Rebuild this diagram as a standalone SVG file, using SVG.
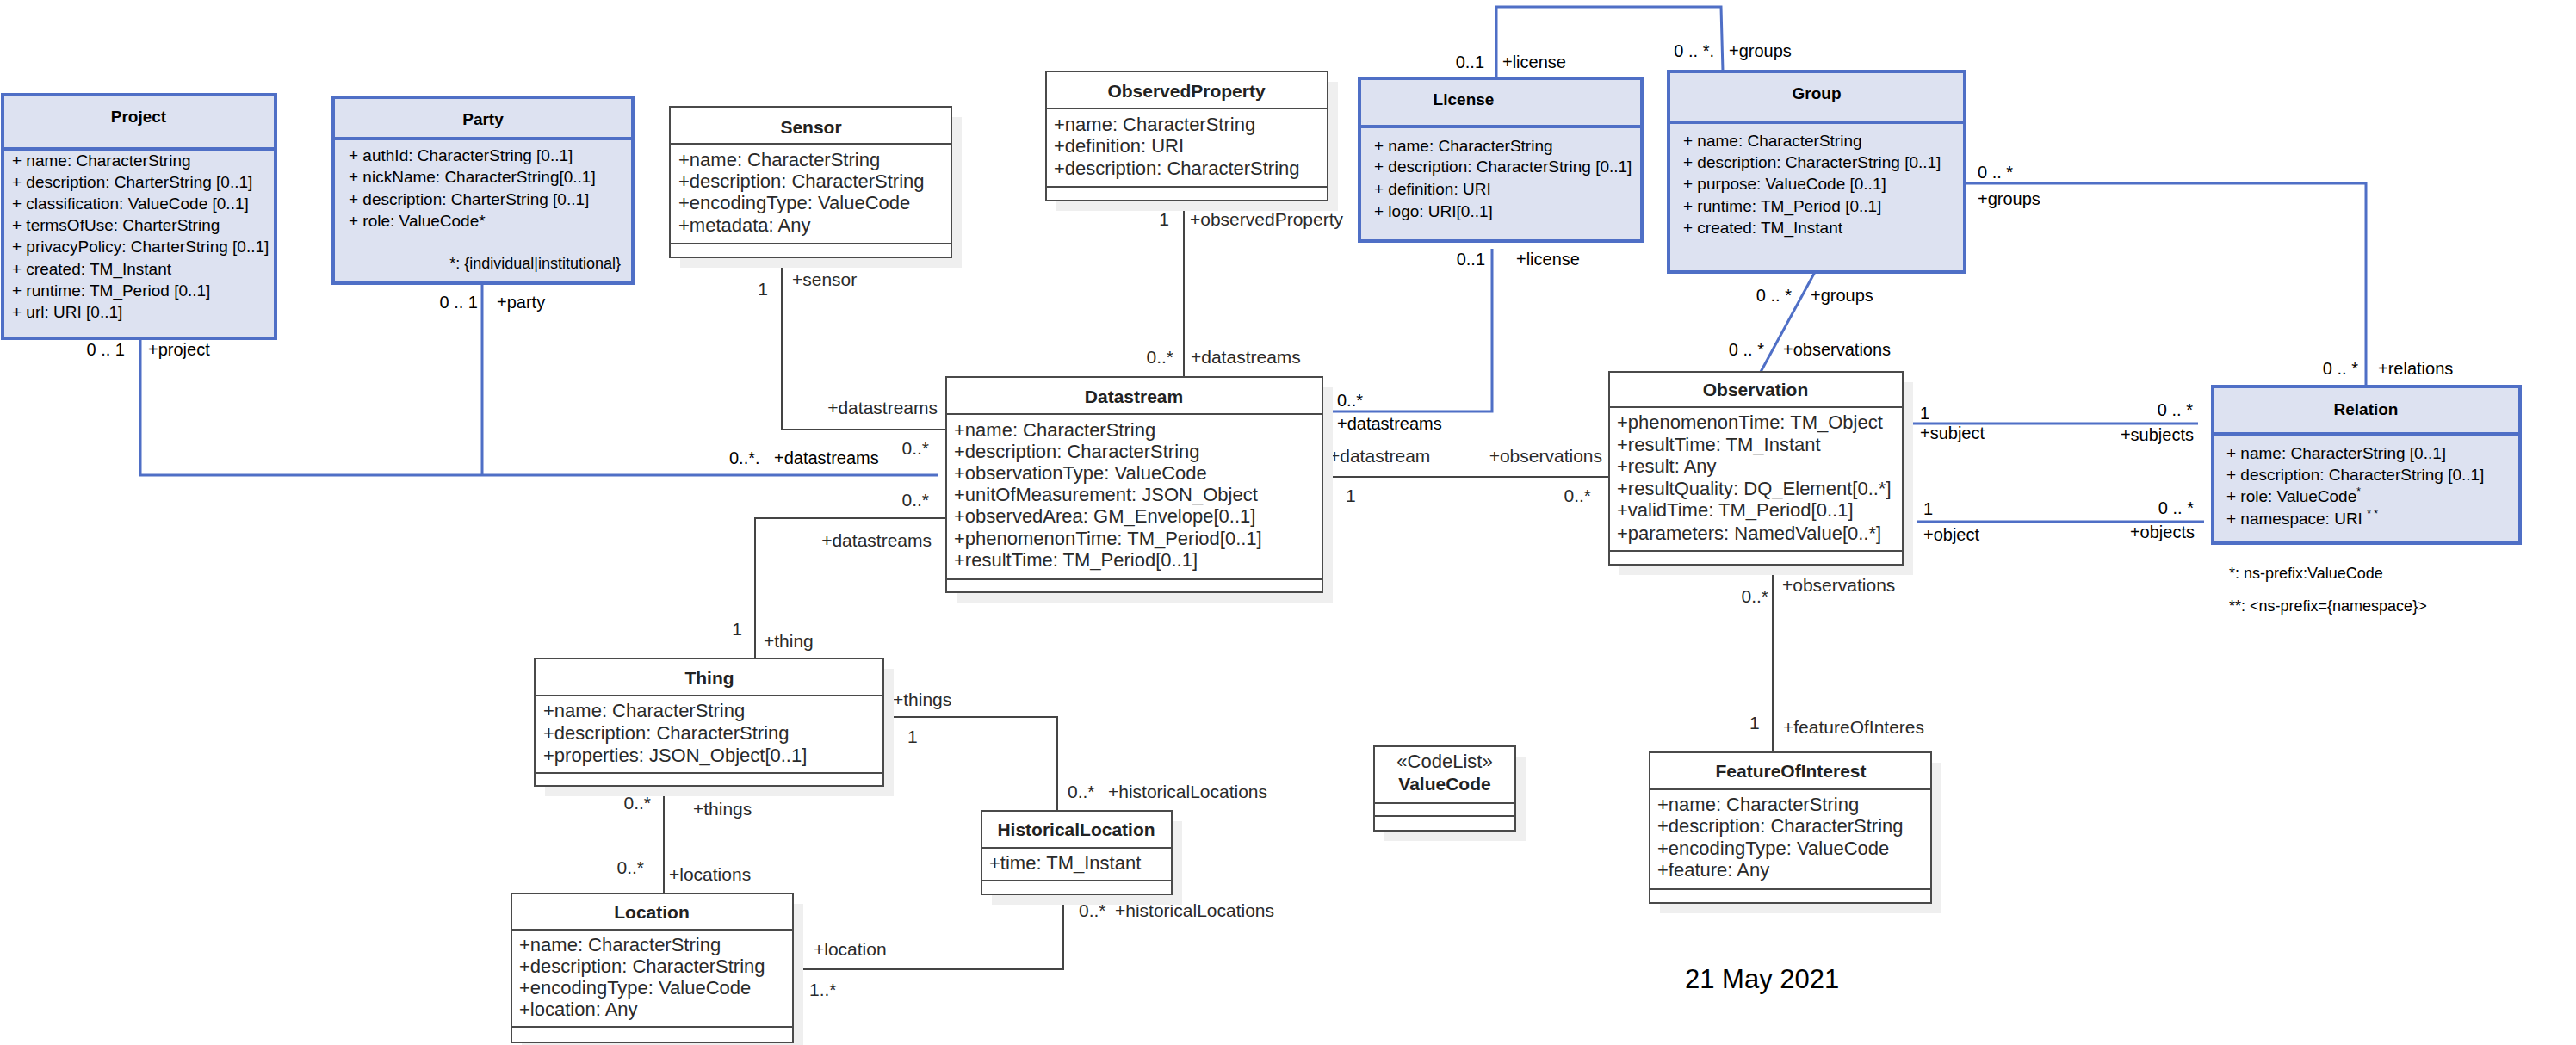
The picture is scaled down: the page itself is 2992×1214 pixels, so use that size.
<svg xmlns="http://www.w3.org/2000/svg" width="2992" height="1214" viewBox="0 0 2992 1214">
<style>
.bb{fill:#dde2f1;stroke:#4f6fc6;stroke-width:4}
.bd{stroke:#4f6fc6;stroke-width:4}
.gb{fill:#fff;stroke:#4a4a4a;stroke-width:2}
.gd{stroke:#4a4a4a;stroke-width:2}
.sh{fill:#efefef}
.bl{fill:none;stroke:#4f6fc6;stroke-width:3}
.kl{fill:none;stroke:#444;stroke-width:2}
text{font-family:"Liberation Sans",Arial,sans-serif}
.bt{font-size:19px;fill:#000}
.btt{font-size:19px;font-weight:bold;fill:#000;text-anchor:middle}
.gt{font-size:22px;fill:#2a2a2a}
.gtt{font-size:21px;font-weight:bold;fill:#222;text-anchor:middle}
.bla{font-size:20px;fill:#000}
.gla{font-size:21px;fill:#2a2a2a}
.e{text-anchor:end}
.m{text-anchor:middle}
.note{font-size:18px;fill:#000}
</style>

<g id="connectors">
  <polyline class="bl" points="163,393 163,552 1090,552"/>
  <line class="bl" x1="560" y1="329" x2="560" y2="552"/>
  <polyline class="bl" points="1738,91 1738,8 1999,8 2001,83"/>
  <polyline class="bl" points="1733,289 1733,478 1536,478"/>
  <line class="bl" x1="2108" y1="316" x2="2045" y2="432"/>
  <polyline class="bl" points="2282,213 2748,213 2748,449"/>
  <line class="bl" x1="2219" y1="492" x2="2553" y2="492"/>
  <line class="bl" x1="2227" y1="606" x2="2560" y2="606"/>

  <polyline class="kl" points="908,299 908,499 1099,499"/>
  <line class="kl" x1="1375" y1="233" x2="1375" y2="438"/>
  <polyline class="kl" points="1099,602 877,602 877,765"/>
  <line class="kl" x1="1536" y1="554" x2="1869" y2="554"/>
  <line class="kl" x1="2059" y1="656" x2="2059" y2="874"/>
  <polyline class="kl" points="1026,833 1228,833 1228,942"/>
  <line class="kl" x1="771" y1="913" x2="771" y2="1038"/>
  <polyline class="kl" points="1235,1039 1235,1126 921,1126"/>

  <text class="bla e" x="145" y="413">0 .. 1</text>
  <text class="bla" x="172" y="413">+project</text>
  <text class="bla e" x="555" y="358">0 .. 1</text>
  <text class="bla" x="577" y="358">+party</text>
  <text class="bla" x="847" y="539">0..*.</text>
  <text class="bla" x="899" y="539">+datastreams</text>
  <text class="bla e" x="1724" y="79">0..1</text>
  <text class="bla" x="1745" y="79">+license</text>
  <text class="bla e" x="1991" y="66">0 .. *.</text>
  <text class="bla" x="2008" y="66">+groups</text>
  <text class="bla e" x="1725" y="308">0..1</text>
  <text class="bla" x="1761" y="308">+license</text>
  <text class="bla" x="1553" y="472">0..*</text>
  <text class="bla" x="1553" y="499">+datastreams</text>
  <text class="bla e" x="2081" y="350">0 .. *</text>
  <text class="bla" x="2103" y="350">+groups</text>
  <text class="bla e" x="2049" y="413">0 .. *</text>
  <text class="bla" x="2071" y="413">+observations</text>
  <text class="bla" x="2297" y="207">0 .. *</text>
  <text class="bla" x="2297" y="238">+groups</text>
  <text class="bla e" x="2739" y="435">0 .. *</text>
  <text class="bla" x="2762" y="435">+relations</text>
  <text class="bla" x="2230" y="487">1</text>
  <text class="bla" x="2230" y="510">+subject</text>
  <text class="bla e" x="2547" y="483">0 .. *</text>
  <text class="bla e" x="2548" y="512">+subjects</text>
  <text class="bla" x="2234" y="598">1</text>
  <text class="bla" x="2234" y="628">+object</text>
  <text class="bla e" x="2548" y="597">0 .. *</text>
  <text class="bla e" x="2549" y="625">+objects</text>

  <text class="gla m" x="886" y="343">1</text>
  <text class="gla" x="920" y="332">+sensor</text>
  <text class="gla m" x="1352" y="262">1</text>
  <text class="gla" x="1382" y="262">+observedProperty</text>
  <text class="gla e" x="1089" y="481">+datastreams</text>
  <text class="gla e" x="1079" y="528">0..*</text>
  <text class="gla e" x="1363" y="422">0..*</text>
  <text class="gla" x="1383" y="422">+datastreams</text>
  <text class="gla e" x="1079" y="588">0..*</text>
  <text class="gla e" x="1082" y="635">+datastreams</text>
  <text class="gla" x="1544" y="537">+datastream</text>
  <text class="gla e" x="1861" y="537">+observations</text>
  <text class="gla" x="1563" y="583">1</text>
  <text class="gla e" x="1848" y="583">0..*</text>
  <text class="gla" x="2070" y="687">+observations</text>
  <text class="gla e" x="2054" y="700">0..*</text>
  <text class="gla" x="2032" y="847">1</text>
  <text class="gla" x="2071" y="852">+featureOfInteres</text>
  <text class="gla m" x="856" y="738">1</text>
  <text class="gla" x="887" y="752">+thing</text>
  <text class="gla" x="1037" y="820">+things</text>
  <text class="gla" x="1054" y="863">1</text>
  <text class="gla" x="1240" y="927">0..*</text>
  <text class="gla" x="1287" y="927">+historicalLocations</text>
  <text class="gla e" x="756" y="940">0..*</text>
  <text class="gla" x="805" y="947">+things</text>
  <text class="gla e" x="748" y="1015">0..*</text>
  <text class="gla" x="777" y="1023">+locations</text>
  <text class="gla" x="1253" y="1065">0..*</text>
  <text class="gla" x="1295" y="1065">+historicalLocations</text>
  <text class="gla" x="945" y="1110">+location</text>
  <text class="gla" x="940" y="1157">1..*</text>
</g>

<g id="project">
  <rect class="bb" x="3" y="110" width="317" height="283"/>
  <line class="bd" x1="3" y1="173" x2="320" y2="173"/>
  <text class="btt" x="161" y="142">Project</text>
  <text class="bt" x="14" y="193">+ name: CharacterString</text>
  <text class="bt" x="14" y="218">+ description: CharterString [0..1]</text>
  <text class="bt" x="14" y="243">+ classification: ValueCode [0..1]</text>
  <text class="bt" x="14" y="268">+ termsOfUse: CharterString</text>
  <text class="bt" x="14" y="293">+ privacyPolicy: CharterString [0..1]</text>
  <text class="bt" x="14" y="319">+ created: TM_Instant</text>
  <text class="bt" x="14" y="344">+ runtime: TM_Period [0..1]</text>
  <text class="bt" x="14" y="369">+ url: URI [0..1]</text>
</g>

<g id="party">
  <rect class="bb" x="387" y="113" width="348" height="216"/>
  <line class="bd" x1="387" y1="161" x2="735" y2="161"/>
  <text class="btt" x="561" y="145">Party</text>
  <text class="bt" x="405" y="187">+ authId: CharacterString [0..1]</text>
  <text class="bt" x="405" y="212">+ nickName: CharacterString[0..1]</text>
  <text class="bt" x="405" y="238">+ description: CharterString [0..1]</text>
  <text class="bt" x="405" y="263">+ role: ValueCode*</text>
  <text class="note e" x="721" y="312">*: {individual|institutional}</text>
</g>

<g id="sensor">
  <rect class="sh" x="790" y="136" width="327" height="175"/>
  <rect class="gb" x="778" y="124" width="327" height="175"/>
  <line class="gd" x1="778" y1="167" x2="1105" y2="167"/>
  <line class="gd" x1="778" y1="283" x2="1105" y2="283"/>
  <text class="gtt" x="942" y="155">Sensor</text>
  <text class="gt" x="788" y="193">+name: CharacterString</text>
  <text class="gt" x="788" y="218">+description: CharacterString</text>
  <text class="gt" x="788" y="243">+encodingType: ValueCode</text>
  <text class="gt" x="788" y="269">+metadata: Any</text>
</g>

<g id="observedproperty">
  <rect class="sh" x="1227" y="95" width="327" height="150"/>
  <rect class="gb" x="1215" y="83" width="327" height="150"/>
  <line class="gd" x1="1215" y1="126" x2="1542" y2="126"/>
  <line class="gd" x1="1215" y1="217" x2="1542" y2="217"/>
  <text class="gtt" x="1378" y="113">ObservedProperty</text>
  <text class="gt" x="1224" y="152">+name: CharacterString</text>
  <text class="gt" x="1224" y="177">+definition: URI</text>
  <text class="gt" x="1224" y="203">+description: CharacterString</text>
</g>

<g id="license">
  <rect class="bb" x="1579" y="91" width="328" height="189"/>
  <line class="bd" x1="1579" y1="147" x2="1907" y2="147"/>
  <text class="btt" x="1700" y="122">License</text>
  <text class="bt" x="1596" y="176">+ name: CharacterString</text>
  <text class="bt" x="1596" y="200">+ description: CharacterString [0..1]</text>
  <text class="bt" x="1596" y="226">+ definition: URI</text>
  <text class="bt" x="1596" y="252">+ logo: URI[0..1]</text>
</g>

<g id="group">
  <rect class="bb" x="1938" y="83" width="344" height="233"/>
  <line class="bd" x1="1938" y1="142" x2="2282" y2="142"/>
  <text class="btt" x="2110" y="115">Group</text>
  <text class="bt" x="1955" y="170">+ name: CharacterString</text>
  <text class="bt" x="1955" y="195">+ description: CharacterString [0..1]</text>
  <text class="bt" x="1955" y="220">+ purpose: ValueCode [0..1]</text>
  <text class="bt" x="1955" y="246">+ runtime: TM_Period [0..1]</text>
  <text class="bt" x="1955" y="271">+ created: TM_Instant</text>
</g>

<g id="datastream">
  <rect class="sh" x="1111" y="450" width="437" height="250"/>
  <rect class="gb" x="1099" y="438" width="437" height="250"/>
  <line class="gd" x1="1099" y1="481" x2="1536" y2="481"/>
  <line class="gd" x1="1099" y1="673" x2="1536" y2="673"/>
  <text class="gtt" x="1317" y="468">Datastream</text>
  <text class="gt" x="1108" y="507">+name: CharacterString</text>
  <text class="gt" x="1108" y="532">+description: CharacterString</text>
  <text class="gt" x="1108" y="557">+observationType: ValueCode</text>
  <text class="gt" x="1108" y="582">+unitOfMeasurement: JSON_Object</text>
  <text class="gt" x="1108" y="607">+observedArea: GM_Envelope[0..1]</text>
  <text class="gt" x="1108" y="633">+phenomenonTime: TM_Period[0..1]</text>
  <text class="gt" x="1108" y="658">+resultTime: TM_Period[0..1]</text>
</g>

<g id="observation">
  <rect class="sh" x="1881" y="444" width="341" height="224"/>
  <rect class="gb" x="1869" y="432" width="341" height="224"/>
  <line class="gd" x1="1869" y1="473" x2="2210" y2="473"/>
  <line class="gd" x1="1869" y1="640" x2="2210" y2="640"/>
  <text class="gtt" x="2039" y="460">Observation</text>
  <text class="gt" x="1878" y="498">+phenomenonTime: TM_Object</text>
  <text class="gt" x="1878" y="524">+resultTime: TM_Instant</text>
  <text class="gt" x="1878" y="549">+result: Any</text>
  <text class="gt" x="1878" y="575">+resultQuality: DQ_Element[0..*]</text>
  <text class="gt" x="1878" y="600">+validTime: TM_Period[0..1]</text>
  <text class="gt" x="1878" y="627">+parameters: NamedValue[0..*]</text>
</g>

<g id="relation">
  <rect class="bb" x="2570" y="449" width="357" height="182"/>
  <line class="bd" x1="2570" y1="504" x2="2927" y2="504"/>
  <text class="btt" x="2748" y="482">Relation</text>
  <text class="bt" x="2586" y="533">+ name: CharacterString [0..1]</text>
  <text class="bt" x="2586" y="558">+ description: CharacterString [0..1]</text>
  <text class="bt" x="2586" y="583">+ role: ValueCode<tspan font-size="12" dy="-8">*</tspan></text>
  <text class="bt" x="2586" y="609">+ namespace: URI <tspan font-size="12" dy="-8">* *</tspan></text>
  <text class="note" x="2589" y="672">*: ns-prefix:ValueCode</text>
  <text class="note" x="2589" y="710">**: &lt;ns-prefix={namespace}&gt;</text>
</g>

<g id="featureofinterest">
  <rect class="sh" x="1928" y="886" width="327" height="175"/>
  <rect class="gb" x="1916" y="874" width="327" height="175"/>
  <line class="gd" x1="1916" y1="917" x2="2243" y2="917"/>
  <line class="gd" x1="1916" y1="1033" x2="2243" y2="1033"/>
  <text class="gtt" x="2080" y="903">FeatureOfInterest</text>
  <text class="gt" x="1925" y="942">+name: CharacterString</text>
  <text class="gt" x="1925" y="967">+description: CharacterString</text>
  <text class="gt" x="1925" y="993">+encodingType: ValueCode</text>
  <text class="gt" x="1925" y="1018">+feature: Any</text>
</g>

<g id="valuecode">
  <rect class="sh" x="1608" y="879" width="164" height="98"/>
  <rect class="gb" x="1596" y="867" width="164" height="98"/>
  <line class="gd" x1="1596" y1="933" x2="1760" y2="933"/>
  <line class="gd" x1="1596" y1="948" x2="1760" y2="948"/>
  <text class="gt m" x="1678" y="892">«CodeList»</text>
  <text class="gtt" x="1678" y="918">ValueCode</text>
</g>

<g id="thing">
  <rect class="sh" x="633" y="777" width="405" height="148"/>
  <rect class="gb" x="621" y="765" width="405" height="148"/>
  <line class="gd" x1="621" y1="808" x2="1026" y2="808"/>
  <line class="gd" x1="621" y1="898" x2="1026" y2="898"/>
  <text class="gtt" x="824" y="795">Thing</text>
  <text class="gt" x="631" y="833">+name: CharacterString</text>
  <text class="gt" x="631" y="859">+description: CharacterString</text>
  <text class="gt" x="631" y="885">+properties: JSON_Object[0..1]</text>
</g>

<g id="historicallocation">
  <rect class="sh" x="1152" y="954" width="221" height="97"/>
  <rect class="gb" x="1140" y="942" width="221" height="97"/>
  <line class="gd" x1="1140" y1="985" x2="1361" y2="985"/>
  <line class="gd" x1="1140" y1="1023" x2="1361" y2="1023"/>
  <text class="gtt" x="1250" y="971">HistoricalLocation</text>
  <text class="gt" x="1149" y="1010">+time: TM_Instant</text>
</g>

<g id="location">
  <rect class="sh" x="606" y="1050" width="327" height="173"/>
  <rect class="gb" x="594" y="1038" width="327" height="173"/>
  <line class="gd" x1="594" y1="1080" x2="921" y2="1080"/>
  <line class="gd" x1="594" y1="1193" x2="921" y2="1193"/>
  <text class="gtt" x="757" y="1067">Location</text>
  <text class="gt" x="603" y="1105">+name: CharacterString</text>
  <text class="gt" x="603" y="1130">+description: CharacterString</text>
  <text class="gt" x="603" y="1155">+encodingType: ValueCode</text>
  <text class="gt" x="603" y="1180">+location: Any</text>
</g>

<text x="1957" y="1148" font-size="31" fill="#000">21 May 2021</text>
</svg>
